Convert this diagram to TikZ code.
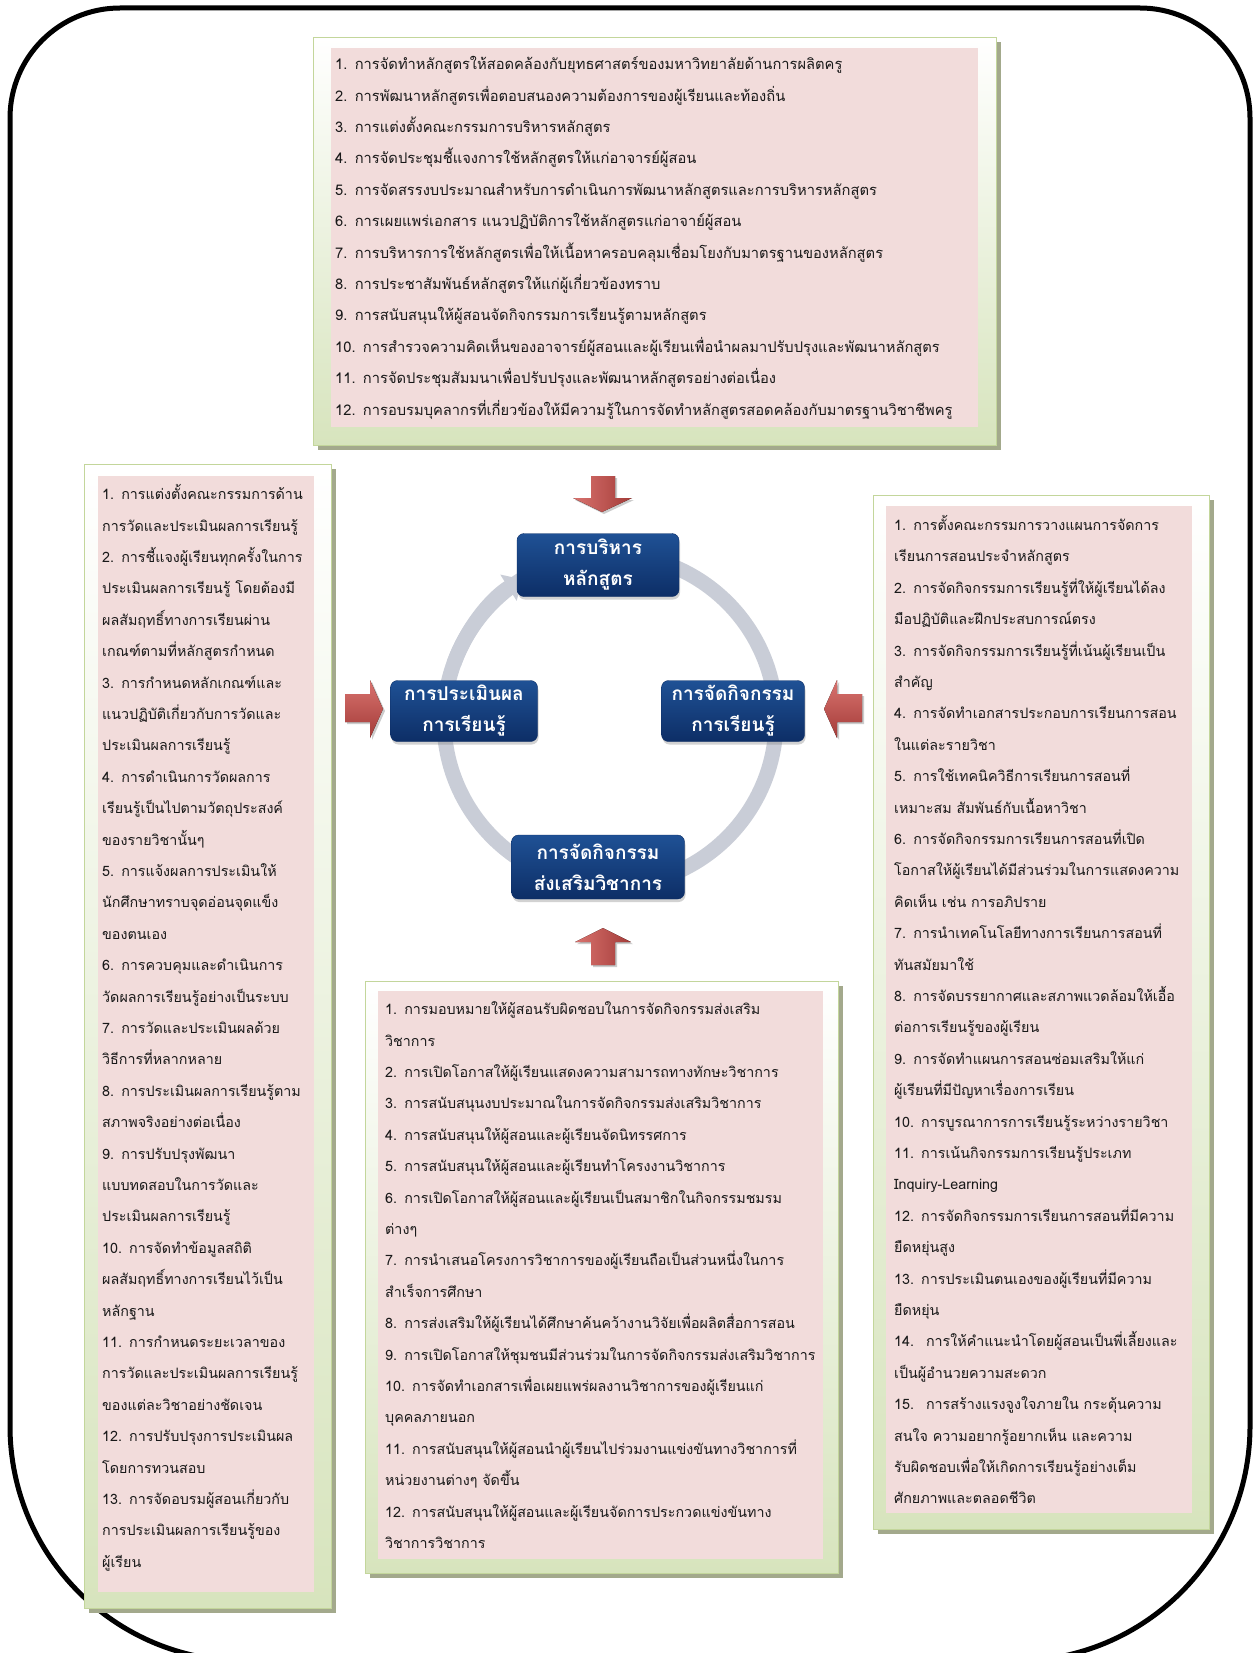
\documentclass[tikz,border=0pt]{standalone}
\usepackage{fontspec}
\newfontfamily\thaifont[Script=Thai]{Loma}
\usetikzlibrary{arrows.meta, shadows}

\definecolor{framegreen}{HTML}{C3D69B}
\definecolor{framefill}{HTML}{D7E4BD}
\definecolor{frameshadow}{HTML}{A3A98C}
\definecolor{listpink}{HTML}{F2DCDB}
\definecolor{stagetop}{HTML}{1F5195}
\definecolor{stagebot}{HTML}{0D2E66}
\definecolor{ringgray}{HTML}{C9CDD7}
\definecolor{arrlight}{HTML}{D9736F}
\definecolor{arrdark}{HTML}{A33B38}

\begin{document}
\begin{tikzpicture}[x=1pt, y=-1pt,
  frame/.style={draw=framegreen, line width=1.2pt, top color=white, bottom color=framefill,
    drop shadow={shadow xshift=4pt, shadow yshift=-4pt, fill=frameshadow, opacity=1},
    inner sep=0pt, anchor=north west},
  listbox/.style={fill=listpink, anchor=north west, align=left, inner ysep=0pt,
    text=black!90, font=\thaifont\fontsize{14.3}{31.4}\selectfont},
  stage/.style={rounded corners=7pt, top color=stagetop, bottom color=stagebot, draw=stagebot,
    text=white, align=center, inner sep=0pt, font=\thaifont\bfseries\fontsize{19}{31}\selectfont,
    drop shadow={shadow xshift=1pt, shadow yshift=-3pt, opacity=.35}},
  ring/.style={draw=ringgray, line width=15pt},
  blockarr/.style={draw=none, drop shadow={shadow xshift=2pt, shadow yshift=-2pt, opacity=.4}}
]
\useasboundingbox[fill=white] (0,0) rectangle (1255,1653);

\draw[line width=5pt] (630,1661) [rounded corners=235pt] -- (10,1661) -- (10,900)
  [rounded corners=110pt] -- (10,8) -- (1250,8) -- (1250,900)
  [rounded corners=235pt] -- (1250,1661) -- cycle;

\node[frame, minimum width=683pt, minimum height=408pt] (frameTop) at (313,37) {};
\node[frame, minimum width=247pt, minimum height=1144pt] (frameLeft) at (84,464) {};
\node[frame, minimum width=336pt, minimum height=1034pt] (frameRight) at (873,495) {};
\node[frame, minimum width=473pt, minimum height=592pt] (frameBottom) at (365,981) {};

\node[listbox, inner xsep=4pt, text width=639pt, minimum height=379pt,
  font=\thaifont\fontsize{14.7}{31.4}\selectfont] (listTop) at (331,48) {%
1. การจัดทำหลักสูตรให้สอดคล้องกับยุทธศาสตร์ของมหาวิทยาลัยด้านการผลิตครู\\
2. การพัฒนาหลักสูตรเพื่อตอบสนองความต้องการของผู้เรียนและท้องถิ่น\\
3. การแต่งตั้งคณะกรรมการบริหารหลักสูตร\\
4. การจัดประชุมชี้แจงการใช้หลักสูตรให้แก่อาจารย์ผู้สอน\\
5. การจัดสรรงบประมาณสำหรับการดำเนินการพัฒนาหลักสูตรและการบริหารหลักสูตร\\
6. การเผยแพร่เอกสาร แนวปฏิบัติการใช้หลักสูตรแก่อาจาย์ผู้สอน\\
7. การบริหารการใช้หลักสูตรเพื่อให้เนื้อหาครอบคลุมเชื่อมโยงกับมาตรฐานของหลักสูตร\\
8. การประชาสัมพันธ์หลักสูตรให้แก่ผู้เกี่ยวข้องทราบ\\
9. การสนับสนุนให้ผู้สอนจัดกิจกรรมการเรียนรู้ตามหลักสูตร\\
10. การสำรวจความคิดเห็นของอาจารย์ผู้สอนและผู้เรียนเพื่อนำผลมาปรับปรุงและพัฒนาหลักสูตร\\
11. การจัดประชุมสัมมนาเพื่อปรับปรุงและพัฒนาหลักสูตรอย่างต่อเนื่อง\\
12. การอบรมบุคลากรที่เกี่ยวข้องให้มีความรู้ในการจัดทำหลักสูตรสอดคล้องกับมาตรฐานวิชาชีพครู};

\node[listbox, inner xsep=4pt, text width=208pt, minimum height=1116pt] (listLeft) at (98,476) {%
1. การแต่งตั้งคณะกรรมการด้าน\\
การวัดและประเมินผลการเรียนรู้\\
2. การชี้แจงผู้เรียนทุกครั้งในการ\\
ประเมินผลการเรียนรู้ โดยต้องมี\\
ผลสัมฤทธิ์ทางการเรียนผ่าน\\
เกณฑ์ตามที่หลักสูตรกำหนด\\
3. การกำหนดหลักเกณฑ์และ\\
แนวปฏิบัติเกี่ยวกับการวัดและ\\
ประเมินผลการเรียนรู้\\
4. การดำเนินการวัดผลการ\\
เรียนรู้เป็นไปตามวัตถุประสงค์\\
ของรายวิชานั้นๆ\\
5. การแจ้งผลการประเมินให้\\
นักศึกษาทราบจุดอ่อนจุดแข็ง\\
ของตนเอง\\
6. การควบคุมและดำเนินการ\\
วัดผลการเรียนรู้อย่างเป็นระบบ\\
7. การวัดและประเมินผลด้วย\\
วิธีการที่หลากหลาย\\
8. การประเมินผลการเรียนรู้ตาม\\
สภาพจริงอย่างต่อเนื่อง\\
9. การปรับปรุงพัฒนา\\
แบบทดสอบในการวัดและ\\
ประเมินผลการเรียนรู้\\
10. การจัดทำข้อมูลสถิติ\\
ผลสัมฤทธิ์ทางการเรียนไว้เป็น\\
หลักฐาน\\
11. การกำหนดระยะเวลาของ\\
การวัดและประเมินผลการเรียนรู้\\
ของแต่ละวิชาอย่างชัดเจน\\
12. การปรับปรุงการประเมินผล\\
โดยการทวนสอบ\\
13. การจัดอบรมผู้สอนเกี่ยวกับ\\
การประเมินผลการเรียนรู้ของ\\
ผู้เรียน\\[-15pt]\mbox{}};

\node[listbox, inner xsep=8pt, text width=290pt, minimum height=1007pt] (listRight) at (886,506) {%
1. การตั้งคณะกรรมการวางแผนการจัดการ\\
เรียนการสอนประจำหลักสูตร\\
2. การจัดกิจกรรมการเรียนรู้ที่ให้ผู้เรียนได้ลง\\
มือปฏิบัติและฝึกประสบการณ์ตรง\\
3. การจัดกิจกรรมการเรียนรู้ที่เน้นผู้เรียนเป็น\\
สำคัญ\\
4. การจัดทำเอกสารประกอบการเรียนการสอน\\
ในแต่ละรายวิชา\\
5. การใช้เทคนิควิธีการเรียนการสอนที่\\
เหมาะสม สัมพันธ์กับเนื้อหาวิชา\\
6. การจัดกิจกรรมการเรียนการสอนที่เปิด\\
โอกาสให้ผู้เรียนได้มีส่วนร่วมในการแสดงความ\\
คิดเห็น เช่น การอภิปราย\\
7. การนำเทคโนโลยีทางการเรียนการสอนที่\\
ทันสมัยมาใช้\\
8. การจัดบรรยากาศและสภาพแวดล้อมให้เอื้อ\\
ต่อการเรียนรู้ของผู้เรียน\\
9. การจัดทำแผนการสอนซ่อมเสริมให้แก่\\
ผู้เรียนที่มีปัญหาเรื่องการเรียน\\
10. การบูรณาการการเรียนรู้ระหว่างรายวิชา\\
11. การเน้นกิจกรรมการเรียนรู้ประเภท\\
Inquiry-Learning\\
12. การจัดกิจกรรมการเรียนการสอนที่มีความ\\
ยืดหยุ่นสูง\\
13. การประเมินตนเองของผู้เรียนที่มีความ\\
ยืดหยุ่น\\
14.~ การให้คำแนะนำโดยผู้สอนเป็นพี่เลี้ยงและ\\
เป็นผู้อำนวยความสะดวก\\
15.~ การสร้างแรงจูงใจภายใน กระตุ้นความ\\
สนใจ ความอยากรู้อยากเห็น และความ\\
รับผิดชอบเพื่อให้เกิดการเรียนรู้อย่างเต็ม\\
ศักยภาพและตลอดชีวิต};

\node[listbox, inner xsep=7pt, text width=431pt, minimum height=568pt] (listBottom) at (378,991) {%
1. การมอบหมายให้ผู้สอนรับผิดชอบในการจัดกิจกรรมส่งเสริม\\
วิชาการ\\
2. การเปิดโอกาสให้ผู้เรียนแสดงความสามารถทางทักษะวิชาการ\\
3. การสนับสนุนงบประมาณในการจัดกิจกรรมส่งเสริมวิชาการ\\
4. การสนับสนุนให้ผู้สอนและผู้เรียนจัดนิทรรศการ\\
5. การสนับสนุนให้ผู้สอนและผู้เรียนทำโครงงานวิชาการ\\
6. การเปิดโอกาสให้ผู้สอนและผู้เรียนเป็นสมาชิกในกิจกรรมชมรม\\
ต่างๆ\\
7. การนำเสนอโครงการวิชาการของผู้เรียนถือเป็นส่วนหนึ่งในการ\\
สำเร็จการศึกษา\\
8. การส่งเสริมให้ผู้เรียนได้ศึกษาค้นคว้างานวิจัยเพื่อผลิตสื่อการสอน\\
9. การเปิดโอกาสให้ชุมชนมีส่วนร่วมในการจัดกิจกรรมส่งเสริมวิชาการ\\
10. การจัดทำเอกสารเพื่อเผยแพร่ผลงานวิชาการของผู้เรียนแก่\\
บุคคลภายนอก\\
11. การสนับสนุนให้ผู้สอนนำผู้เรียนไปร่วมงานแข่งขันทางวิชาการที่\\
หน่วยงานต่างๆ จัดขึ้น\\
12. การสนับสนุนให้ผู้สอนและผู้เรียนจัดการประกวดแข่งขันทาง\\
วิชาการวิชาการ};

\fill[blockarr, left color=arrlight, right color=arrdark]
  (591,476) -- (615,476) -- (615,498) -- (632,498) -- (602,512) -- (573,498) -- (591,498) -- cycle;
\fill[blockarr, left color=arrlight, right color=arrdark]
  (591,965) -- (615,965) -- (615,942) -- (631,942) -- (603,928) -- (575,942) -- (591,942) -- cycle;
\fill[blockarr, top color=arrlight, bottom color=arrdark]
  (345,694) -- (370,694) -- (370,680) -- (383,709) -- (370,738) -- (370,722) -- (345,722) -- cycle;
\fill[blockarr, top color=arrlight, bottom color=arrdark]
  (862,694) -- (837,694) -- (837,680) -- (824,709) -- (837,738) -- (837,722) -- (862,722) -- cycle;

\coordinate (hub) at (610,720);
\draw[ring] (hub) circle[radius=166];
\draw[ring, -{Triangle[width=30pt,length=16pt]}] (hub) ++(200:166) arc[start angle=200, end angle=238, radius=166];

\node[stage, minimum width=162pt, minimum height=63pt] (mgmt) at (598,565) {การบริหาร\\หลักสูตร};
\node[stage, minimum width=147pt, minimum height=61pt] (eval) at (464,711) {การประเมินผล\\การเรียนรู้};
\node[stage, minimum width=143pt, minimum height=61pt] (learn) at (733,711) {การจัดกิจกรรม\\การเรียนรู้};
\node[stage, minimum width=173pt, minimum height=64pt] (promo) at (598,867) {การจัดกิจกรรม\\ส่งเสริมวิชาการ};
\end{tikzpicture}
\end{document}
